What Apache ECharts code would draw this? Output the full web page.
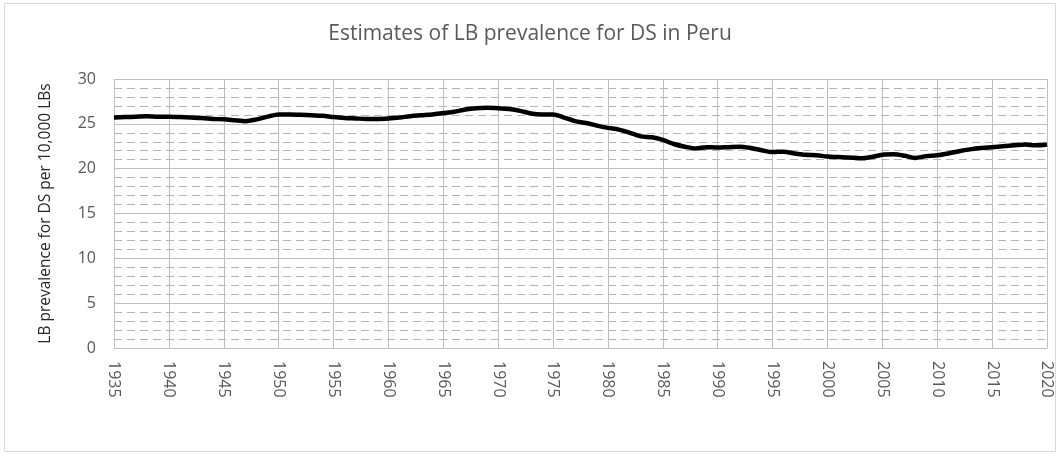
<!DOCTYPE html>
<html>
<head>
<meta charset="utf-8">
<script src="https://cdn.jsdelivr.net/npm/echarts@6/dist/echarts.min.js"></script>
<style>
  html, body { margin: 0; padding: 0; background: #fff; }
  #chart { width: 1060px; height: 456px; }
</style>
</head>
<body>
<div id="chart"></div>
<script>
var years = [];
for (var y = 1935; y <= 2020; y++) years.push(String(y));

// LB prevalence for DS per 10,000 LBs (1935..2020)
var prevalence = [
  25.7, 25.75, 25.8, 25.85, 25.8, 25.8, 25.75, 25.7, 25.65, 25.55,
  25.5, 25.4, 25.3, 25.5, 25.8, 26.05, 26.05, 26.0, 25.95, 25.9,
  25.75, 25.65, 25.6, 25.55, 25.55, 25.6, 25.7, 25.85, 25.95, 26.05,
  26.2, 26.35, 26.6, 26.75, 26.8, 26.75, 26.65, 26.45, 26.15, 26.05,
  26.05, 25.7, 25.3, 25.1, 24.8, 24.55, 24.35, 24.0, 23.6, 23.5,
  23.2, 22.75, 22.45, 22.25, 22.4, 22.35, 22.4, 22.45, 22.3, 22.05,
  21.85, 21.9, 21.7, 21.55, 21.5, 21.35, 21.3, 21.25, 21.15, 21.3,
  21.55, 21.6, 21.45, 21.2, 21.4, 21.5, 21.7, 21.95, 22.15, 22.3,
  22.4, 22.5, 22.6, 22.7, 22.6, 22.7
];

var chart = echarts.init(document.getElementById('chart'));

var font = 'Open Sans';

var option = {
  animation: false,
  backgroundColor: '#fff',
  textStyle: { fontFamily: font },
  title: {
    text: 'Estimates of LB prevalence for DS in Peru',
    left: 'center',
    top: 19,
    textStyle: { fontFamily: font, fontSize: 21, fontWeight: 'normal', color: '#595959' }
  },
  graphic: [{
    type: 'rect',
    shape: { x: 4.5, y: 3.5, width: 1051, height: 448 },
    style: { fill: 'none', stroke: '#d9d9d9', lineWidth: 1 },
    silent: true
  }],
  grid: { left: 114, right: 13, top: 79, bottom: 108 },
  xAxis: {
    type: 'category',
    data: years,
    boundaryGap: false,
    axisLine: { show: true, lineStyle: { color: '#bfbfbf', width: 1 } },
    axisTick: { show: false },
    axisLabel: {
      interval: 4,
      rotate: -90,
      margin: 13,
      fontSize: 16,
      color: '#595959',
      fontFamily: font
    },
    splitLine: { show: true, interval: 4, lineStyle: { color: '#bfbfbf', width: 1 } }
  },
  yAxis: {
    type: 'value',
    min: 0,
    max: 30,
    interval: 5,
    name: 'LB prevalence for DS per 10,000 LBs',
    nameLocation: 'middle',
    nameGap: 60,
    nameTextStyle: { fontFamily: font, fontSize: 15.5, color: '#262626' },
    axisLine: { show: false },
    axisTick: { show: false },
    axisLabel: { fontSize: 16, color: '#595959', margin: 18, fontFamily: font },
    splitLine: { show: true, lineStyle: { color: '#bfbfbf', width: 1 } },
    minorTick: { show: false, splitNumber: 5 },
    minorSplitLine: { show: true, lineStyle: { color: '#b4b4b4', width: 1, type: [8, 5] } }
  },
  series: [{
    name: 'Peru',
    type: 'line',
    data: prevalence,
    showSymbol: false,
    smooth: 0.3,
    lineStyle: { color: '#000', width: 4.5 },
    itemStyle: { color: '#000' }
  }]
};

chart.setOption(option);
</script>
</body>
</html>
